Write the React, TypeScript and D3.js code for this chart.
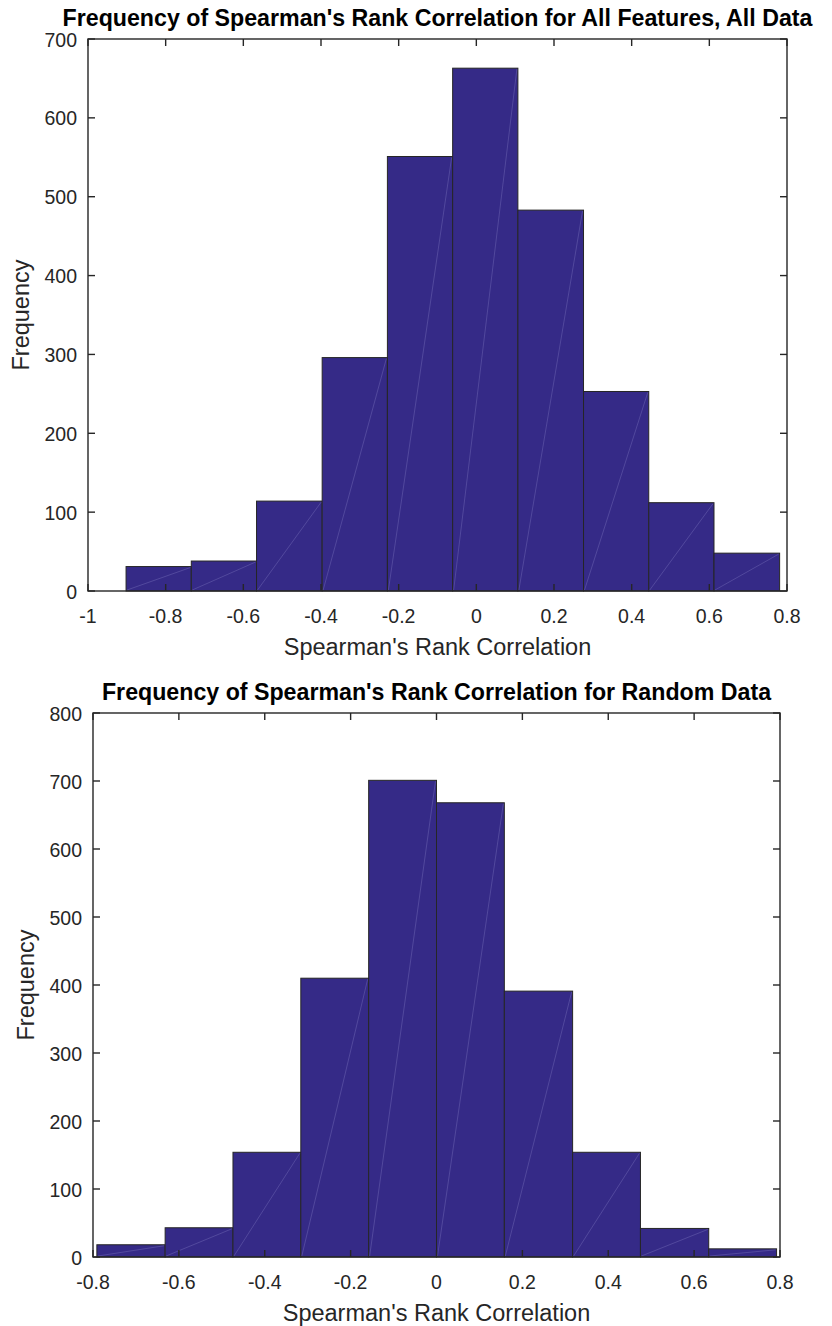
import React, { useRef, useEffect } from 'react';
import * as d3 from 'd3';

// histogram bin edges and counts
const allEdges = [-0.902, -0.734, -0.566, -0.397, -0.229, -0.061, 0.107, 0.276, 0.444, 0.612, 0.781];
const allCounts = [31, 38, 114, 296, 551, 663, 483, 253, 112, 48];
const allXTicks = [-1, -0.8, -0.6, -0.4, -0.2, 0, 0.2, 0.4, 0.6, 0.8];
const allYTicks = [0, 100, 200, 300, 400, 500, 600, 700];

const randEdges = [-0.791, -0.632, -0.474, -0.316, -0.158, 0.0, 0.158, 0.317, 0.475, 0.634, 0.792];
const randCounts = [18, 43, 154, 410, 701, 668, 391, 154, 42, 12];
const randXTicks = [-0.8, -0.6, -0.4, -0.2, 0, 0.2, 0.4, 0.6, 0.8];
const randYTicks = [0, 100, 200, 300, 400, 500, 600, 700, 800];

const W = 832;
const H = 1326;
const FONT = '"Liberation Sans", Arial, Helvetica, sans-serif';
const AX = '#262626';
const BAR = '#352a87';

const panels = [
    {
        title: "Frequency of Spearman's Rank Correlation for All Features, All Data",
        edges: allEdges, counts: allCounts, xTicks: allXTicks, yTicks: allYTicks,
        xDomain: [-1, 0.8], yDomain: [0, 700],
        box: { left: 88, right: 787, top: 39, bottom: 591 }
    },
    {
        title: "Frequency of Spearman's Rank Correlation for Random Data",
        edges: randEdges, counts: randCounts, xTicks: randXTicks, yTicks: randYTicks,
        xDomain: [-0.8, 0.8], yDomain: [0, 800],
        box: { left: 93, right: 780, top: 713, bottom: 1257 }
    }
];

// matlab style labels: plain hyphen, no trailing zeros
const fmt = (v) => (Math.abs(v) < 1e-9 ? '0' : String(+v.toFixed(2)));

export default function App() {
    const ref = useRef(null);

    useEffect(() => {
        const svg = d3.select(ref.current);
        svg.selectAll('*').remove();
        svg.append('rect').attr('width', W).attr('height', H).attr('fill', '#fff');

        panels.forEach((p) => {
            const b = p.box;
            const x = d3.scaleLinear().domain(p.xDomain).range([b.left, b.right]);
            const y = d3.scaleLinear().domain(p.yDomain).range([b.bottom, b.top]);
            const g = svg.append('g');

            const bins = p.counts.map((c, i) => ({ x0: p.edges[i], x1: p.edges[i + 1], c }));

            g.selectAll('rect.bar')
                .data(bins)
                .enter().append('rect')
                .attr('class', 'bar')
                .attr('x', d => x(d.x0))
                .attr('y', d => y(d.c))
                .attr('width', d => x(d.x1) - x(d.x0))
                .attr('height', d => y(0) - y(d.c))
                .attr('fill', BAR)
                .attr('stroke', AX)
                .attr('stroke-width', 1);

            // faint diagonal seams seen inside every bar
            g.selectAll('line.seam')
                .data(bins)
                .enter().append('line')
                .attr('x1', d => x(d.x0) + 1)
                .attr('y1', y(0) - 1)
                .attr('x2', d => x(d.x1) - 1)
                .attr('y2', d => y(d.c) + 1)
                .attr('stroke', '#8e88cc')
                .attr('stroke-width', 0.6)
                .attr('stroke-opacity', 0.55);

            // box
            g.append('rect')
                .attr('x', b.left).attr('y', b.top)
                .attr('width', b.right - b.left).attr('height', b.bottom - b.top)
                .attr('fill', 'none').attr('stroke', AX).attr('stroke-width', 1.4);

            const tl = 7;
            p.xTicks.forEach(t => {
                g.append('line').attr('x1', x(t)).attr('x2', x(t)).attr('y1', b.bottom).attr('y2', b.bottom - tl)
                    .attr('stroke', AX).attr('stroke-width', 1.4);
                g.append('line').attr('x1', x(t)).attr('x2', x(t)).attr('y1', b.top).attr('y2', b.top + tl)
                    .attr('stroke', AX).attr('stroke-width', 1.4);
                g.append('text').attr('x', x(t)).attr('y', b.bottom + 32)
                    .attr('text-anchor', 'middle').attr('font-family', FONT).attr('font-size', 19.5)
                    .attr('fill', AX).text(fmt(t));
            });
            p.yTicks.forEach(t => {
                g.append('line').attr('x1', b.left).attr('x2', b.left + tl).attr('y1', y(t)).attr('y2', y(t))
                    .attr('stroke', AX).attr('stroke-width', 1.4);
                g.append('line').attr('x1', b.right).attr('x2', b.right - tl).attr('y1', y(t)).attr('y2', y(t))
                    .attr('stroke', AX).attr('stroke-width', 1.4);
                g.append('text').attr('x', b.left - 11).attr('y', y(t) + 7.5)
                    .attr('text-anchor', 'end').attr('font-family', FONT).attr('font-size', 19.5)
                    .attr('fill', AX).text(fmt(t));
            });

            g.append('text')
                .attr('x', (b.left + b.right) / 2).attr('y', b.bottom + 64)
                .attr('text-anchor', 'middle').attr('font-family', FONT).attr('font-size', 23.5)
                .attr('fill', AX).text("Spearman's Rank Correlation");

            g.append('text')
                .attr('transform', `translate(${b.left - 59},${(b.top + b.bottom) / 2}) rotate(-90)`)
                .attr('text-anchor', 'middle').attr('font-family', FONT).attr('font-size', 23.5)
                .attr('fill', AX).text('Frequency');

            const title = g.append('text')
                .attr('x', (b.left + b.right) / 2).attr('y', b.top - 13)
                .attr('text-anchor', 'middle').attr('font-family', FONT).attr('font-size', 23.2)
                .attr('font-weight', 'bold').attr('fill', '#000').text(p.title);
            // keep the title inside the figure like the original does
            const tw = title.node().getComputedTextLength();
            const cx = Math.min((b.left + b.right) / 2, W - 10 - tw / 2);
            title.attr('x', cx);
        });
    }, []);

    return (
        <div style={{ position: 'absolute', left: 0, top: 0 }}>
            <svg ref={ref} width={W} height={H} style={{ display: 'block' }} />
        </div>
    );
}
